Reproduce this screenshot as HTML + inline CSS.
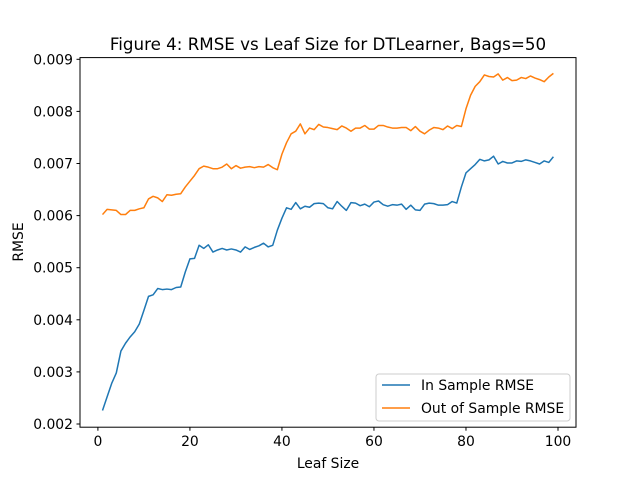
<!DOCTYPE html>
<html><head><meta charset="utf-8"><style>
body{margin:0;background:#fff}
svg text{font-family:"DejaVu Sans","Liberation Sans",sans-serif;fill:#000}
</style></head><body>
<svg id="chart" width="640" height="480" viewBox="0 0 640 480" xmlns="http://www.w3.org/2000/svg">
<rect width="640" height="480" fill="#fff"/>
<text x="328" y="50" font-size="16.7" text-anchor="middle">Figure 4: RMSE vs Leaf Size for DTLearner, Bags=50</text>
<g id="series"></g>
<rect x="80" y="57.6" width="496" height="369.6" fill="none" stroke="#000" stroke-width="1"/>
<g id="xt"></g><g id="yt"></g>
<text x="328" y="468" font-size="13.9" text-anchor="middle">Leaf Size</text>
<text x="0" y="0" font-size="13.9" text-anchor="middle" transform="translate(23,242) rotate(-90)">RMSE</text>
<g>
<rect x="376" y="374" width="194" height="47" rx="3" fill="#fff" fill-opacity="0.8" stroke="#ccc"/>
<g><line x1="382" x2="410" y1="385" y2="385" stroke="#1f77b4" stroke-width="1.5"/><text x="421" y="390" font-size="13.9">In Sample RMSE</text></g>
<g><line x1="382" x2="410" y1="408" y2="408" stroke="#ff7f0e" stroke-width="1.5"/><text x="421" y="413" font-size="13.9">Out of Sample RMSE</text></g>
</g>
</svg>
<script>
const leafSizes=[];for(let i=1;i<=99;i++)leafSizes.push(i);
const inSample=[0.00226,0.00252,0.00278,0.00298,0.0034,0.00355,0.00367,0.00377,0.00392,0.00418,0.00445,0.00448,0.0046,0.00458,0.00459,0.00458,0.00462,0.00463,0.00492,0.00517,0.00518,0.00543,0.00537,0.00544,0.0053,0.00534,0.00537,0.00534,0.00536,0.00534,0.0053,0.0054,0.00535,0.00539,0.00542,0.00547,0.0054,0.00543,0.00572,0.00595,0.00615,0.00612,0.00625,0.00613,0.00618,0.00616,0.00623,0.00624,0.00623,0.00615,0.00613,0.00627,0.00618,0.0061,0.00625,0.00624,0.00619,0.00622,0.00617,0.00626,0.00628,0.00621,0.00618,0.00621,0.0062,0.00622,0.00612,0.0062,0.00611,0.0061,0.00622,0.00624,0.00623,0.0062,0.0062,0.00621,0.00627,0.00624,0.00655,0.00682,0.0069,0.00698,0.00708,0.00705,0.00707,0.00714,0.00699,0.00704,0.00701,0.00701,0.00705,0.00704,0.00707,0.00705,0.00702,0.00699,0.00705,0.00702,0.00713];
const outSample=[0.00602,0.00612,0.00611,0.0061,0.00602,0.00602,0.0061,0.0061,0.00613,0.00615,0.00632,0.00637,0.00634,0.00627,0.0064,0.00639,0.00641,0.00642,0.00655,0.00666,0.00677,0.0069,0.00695,0.00693,0.0069,0.0069,0.00693,0.00699,0.0069,0.00696,0.00691,0.00693,0.00694,0.00692,0.00694,0.00693,0.00698,0.00692,0.00688,0.00718,0.0074,0.00757,0.00762,0.00776,0.00757,0.00768,0.00765,0.00775,0.0077,0.00769,0.00767,0.00765,0.00772,0.00768,0.00762,0.00768,0.00768,0.00773,0.00766,0.00766,0.00773,0.00773,0.0077,0.00768,0.00768,0.00769,0.00769,0.00763,0.00771,0.00762,0.00757,0.00764,0.00769,0.00768,0.00765,0.00772,0.00767,0.00773,0.00771,0.00805,0.00831,0.00848,0.00857,0.0087,0.00867,0.00866,0.00872,0.0086,0.00865,0.00859,0.0086,0.00865,0.00863,0.00868,0.00864,0.00861,0.00857,0.00866,0.00873];
const xTicks=[0,20,40,60,80,100];
const yTicks=[0.002,0.003,0.004,0.005,0.006,0.007,0.008,0.009];
const NS="http://www.w3.org/2000/svg";
const xs=v=>97.9+v*4.601;
const ys=v=>424-(v-0.002)*52100;
function mk(t,a,p){const e=document.createElementNS(NS,t);for(const k in a)e.setAttribute(k,a[k]);p.appendChild(e);return e;}
const S=document.getElementById('series');
[[inSample,'#1f77b4','in-sample-line'],[outSample,'#ff7f0e','out-of-sample-line']].forEach(([d,c,n])=>{
 const p=mk('polyline',{points:d.map((v,i)=>xs(leafSizes[i]).toFixed(2)+','+ys(v).toFixed(2)).join(' '),fill:'none',stroke:c,'stroke-width':1.5,'stroke-linejoin':'round'},S);
 
 
});
const XT=document.getElementById('xt');
xTicks.forEach(t=>{const g=mk('g',{},XT);
 
 
 mk('line',{x1:xs(t),x2:xs(t),y1:427.2,y2:430.7,stroke:'#000'},g);
 const tx=mk('text',{x:xs(t),y:446,'font-size':13.9,'text-anchor':'middle'},g);tx.textContent=t;});
const YT=document.getElementById('yt');
yTicks.forEach(t=>{const g=mk('g',{},YT);
 
 
 mk('line',{x1:76.5,x2:80,y1:ys(t),y2:ys(t),stroke:'#000'},g);
 const tx=mk('text',{x:73,y:ys(t)+5,'font-size':13.9,'text-anchor':'end'},g);tx.textContent=t.toFixed(3);});
</script>
</body></html>
